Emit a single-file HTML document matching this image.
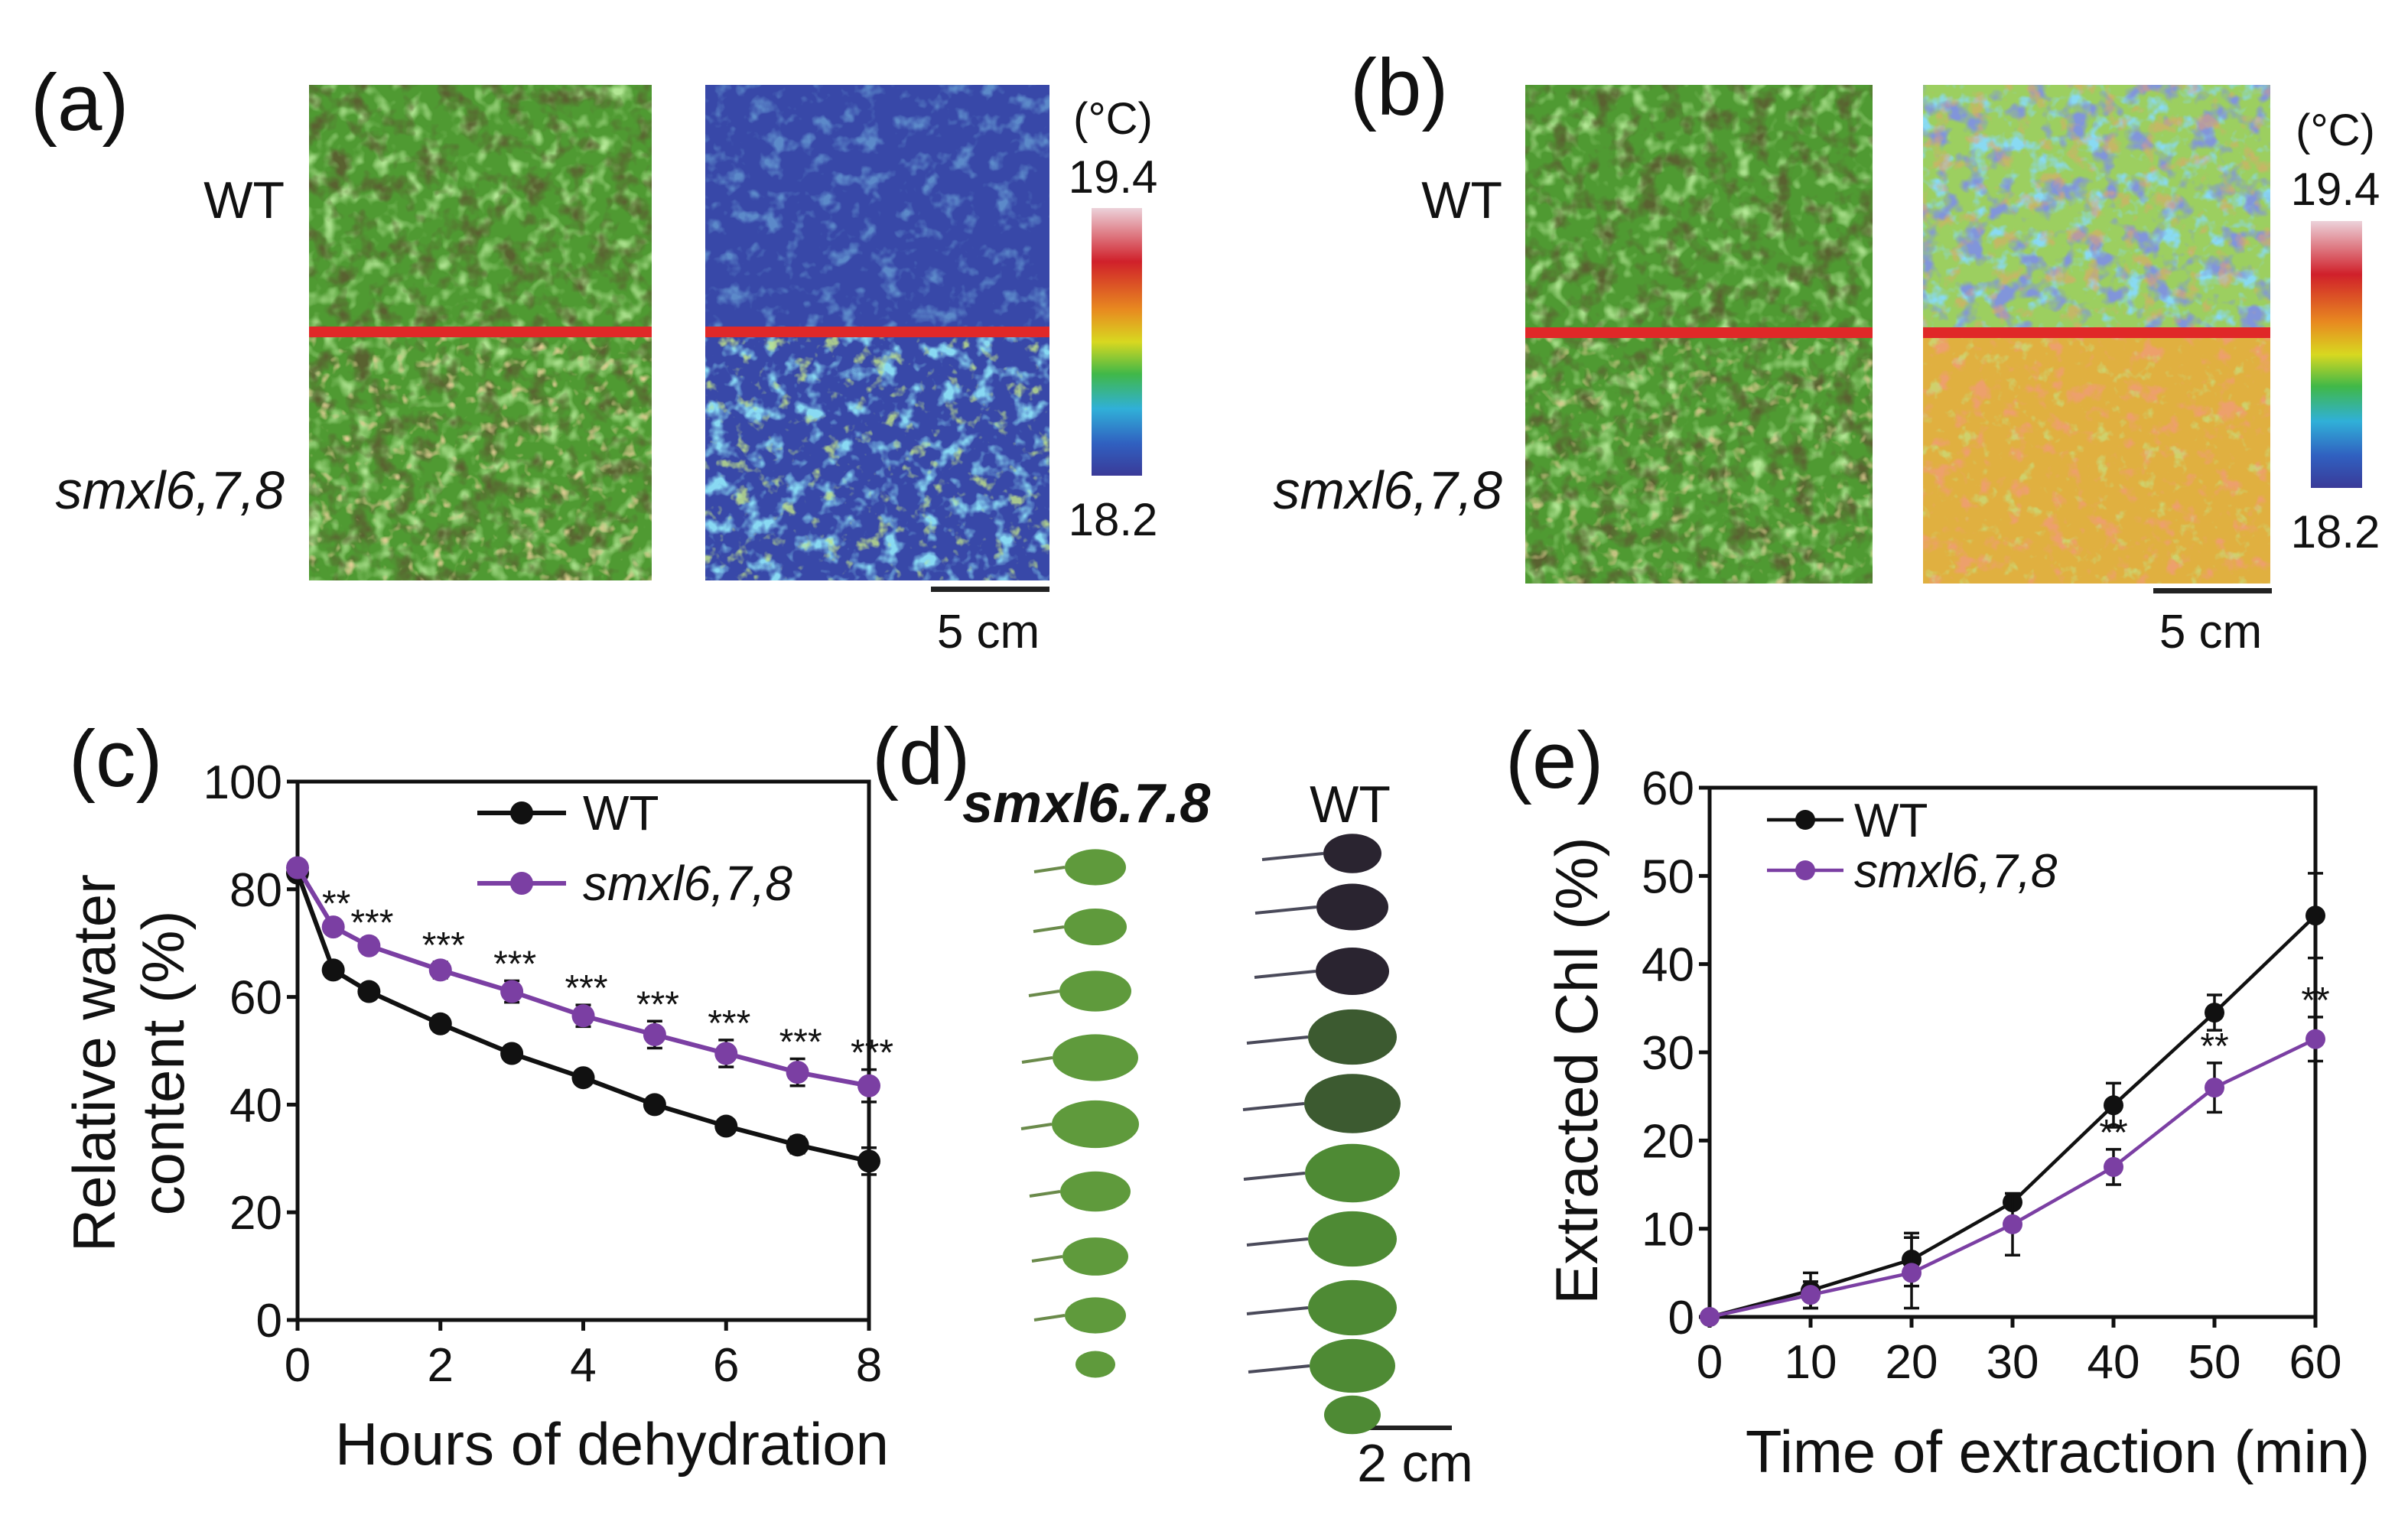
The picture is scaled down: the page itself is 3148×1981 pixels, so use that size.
<!DOCTYPE html>
<html><head><meta charset="utf-8"><style>
html,body{margin:0;padding:0;background:#fff}
svg{display:block}
text{font-family:"Liberation Sans",sans-serif;fill:#111}
</style></head><body>
<svg id="fig" width="3148" height="1981" viewBox="0 0 3148 1981" xmlns="http://www.w3.org/2000/svg">
<defs>
<filter id="leafTex" x="0" y="0" width="100%" height="100%">
<feTurbulence type="fractalNoise" baseFrequency="0.035" numOctaves="3" seed="3"/>
<feColorMatrix type="matrix" values="0 0 0 0 0.10  0 0 0 0 0.12  0 0 0 0 0.03  -3 0 0 0 1.55"/>
</filter>
<filter id="leafHi" x="0" y="0" width="100%" height="100%">
<feTurbulence type="fractalNoise" baseFrequency="0.045" numOctaves="2" seed="9"/>
<feColorMatrix type="matrix" values="0 0 0 0 0.45  0 0 0 0 0.80  0 0 0 0 0.30  3 0 0 0 -1.5"/>
</filter>
<filter id="soil" x="0" y="0" width="100%" height="100%">
<feTurbulence type="fractalNoise" baseFrequency="0.06" numOctaves="2" seed="5"/>
<feColorMatrix type="matrix" values="0 0 0 0 0.75  0 0 0 0 0.62  0 0 0 0 0.30  4 0 0 0 -2.4"/>
</filter>
<filter id="thermCyan" x="0" y="0" width="100%" height="100%">
<feTurbulence type="fractalNoise" baseFrequency="0.04" numOctaves="3" seed="11"/>
<feColorMatrix type="matrix" values="0 0 0 0 0.25  0 0 0 0 0.70  0 0 0 0 0.90  4 0 0 0 -2.1"/>
</filter>
<filter id="thermGreen" x="0" y="0" width="100%" height="100%">
<feTurbulence type="fractalNoise" baseFrequency="0.05" numOctaves="3" seed="21"/>
<feColorMatrix type="matrix" values="0 0 0 0 0.55  0 0 0 0 0.80  0 0 0 0 0.25  5 0 0 0 -3.0"/>
</filter>
<filter id="thermBlue" x="0" y="0" width="100%" height="100%">
<feTurbulence type="fractalNoise" baseFrequency="0.03" numOctaves="3" seed="7"/>
<feColorMatrix type="matrix" values="0 0 0 0 0.22  0 0 0 0 0.30  0 0 0 0 0.70  5 0 0 0 -2.6"/>
</filter>
<filter id="thermRed" x="0" y="0" width="100%" height="100%">
<feTurbulence type="fractalNoise" baseFrequency="0.04" numOctaves="3" seed="15"/>
<feColorMatrix type="matrix" values="0 0 0 0 0.85  0 0 0 0 0.35  0 0 0 0 0.15  5 0 0 0 -2.8"/>
</filter>
<linearGradient id="cbar" x1="0" y1="0" x2="0" y2="1">
<stop offset="0" stop-color="#ecd2da"/><stop offset="0.2" stop-color="#d0202a"/>
<stop offset="0.38" stop-color="#e88a20"/><stop offset="0.5" stop-color="#d8d820"/>
<stop offset="0.62" stop-color="#40b848"/><stop offset="0.75" stop-color="#30b0d8"/>
<stop offset="0.88" stop-color="#3060c0"/><stop offset="1" stop-color="#3a3a98"/>
</linearGradient>
</defs>

<!-- Panel a -->
<g>
<text x="40" y="170" font-size="105">(a)</text>
<text x="372" y="285" font-size="68" text-anchor="end">WT</text>
<text x="372" y="665" font-size="70" font-style="italic" text-anchor="end">smxl6,7,8</text>
<g>
<rect x="404" y="111" width="448" height="648" fill="#4f9a32"/>
<rect x="404" y="111" width="448" height="648" filter="url(#leafHi)"/>
<rect x="404" y="111" width="448" height="648" filter="url(#leafTex)"/>
<rect x="404" y="440" width="448" height="319" filter="url(#soil)"/>
</g>
<g>
<rect x="922" y="111" width="450" height="648" fill="#3848a8"/>
<rect x="922" y="111" width="450" height="323" filter="url(#thermCyan)" opacity="0.45"/>
<rect x="922" y="434" width="450" height="325" filter="url(#thermCyan)"/>
<rect x="922" y="434" width="450" height="325" filter="url(#thermGreen)" opacity="0.8"/>
</g>
<rect x="404" y="427" width="448" height="14" fill="#e02828"/>
<rect x="922" y="427" width="450" height="14" fill="#e02828"/>
<rect x="1427" y="272" width="66" height="350" fill="url(#cbar)"/>
<text x="1455" y="175" font-size="58" text-anchor="middle">(°C)</text>
<text x="1455" y="252" font-size="60" text-anchor="middle">19.4</text>
<text x="1455" y="700" font-size="60" text-anchor="middle">18.2</text>
<rect x="1217" y="767" width="155" height="7" fill="#222"/>
<text x="1292" y="847" font-size="62" text-anchor="middle">5 cm</text>
</g>

<!-- Panel b -->
<g>
<text x="1765" y="150" font-size="105">(b)</text>
<text x="1964" y="285" font-size="68" text-anchor="end">WT</text>
<text x="1964" y="665" font-size="70" font-style="italic" text-anchor="end">smxl6,7,8</text>
<g>
<rect x="1994" y="111" width="454" height="652" fill="#4f9a32"/>
<rect x="1994" y="111" width="454" height="652" filter="url(#leafHi)"/>
<rect x="1994" y="111" width="454" height="652" filter="url(#leafTex)"/>
<rect x="1994" y="440" width="454" height="323" filter="url(#soil)" opacity="0.8"/>
</g>
<g>
<rect x="2514" y="111" width="454" height="323" fill="#9ccf60"/>
<rect x="2514" y="111" width="454" height="323" filter="url(#thermCyan)"/>
<rect x="2514" y="111" width="454" height="323" filter="url(#thermBlue)"/>
<rect x="2514" y="111" width="454" height="323" filter="url(#thermRed)" opacity="0.5"/>
<rect x="2514" y="434" width="454" height="329" fill="#e0b040"/>
<rect x="2514" y="434" width="454" height="329" filter="url(#thermRed)"/>
<rect x="2514" y="434" width="454" height="329" filter="url(#thermGreen)" opacity="0.6"/>
</g>
<rect x="1994" y="428" width="454" height="14" fill="#e02828"/>
<rect x="2514" y="428" width="454" height="14" fill="#e02828"/>
<rect x="3021" y="289" width="67" height="349" fill="url(#cbar)"/>
<text x="3053" y="190" font-size="58" text-anchor="middle">(°C)</text>
<text x="3053" y="268" font-size="60" text-anchor="middle">19.4</text>
<text x="3053" y="716" font-size="60" text-anchor="middle">18.2</text>
<rect x="2815" y="769" width="155" height="7" fill="#222"/>
<text x="2890" y="847" font-size="62" text-anchor="middle">5 cm</text>
</g>

<!-- Panel d -->
<g id="panelD">
<text x="1140" y="1025" font-size="105">(d)</text>
<text x="1258" y="1075" font-size="72" font-style="italic" font-weight="bold">smxl6.7.8</text>
<text x="1765" y="1075" font-size="68" text-anchor="middle">WT</text>
<rect x="1772" y="1864" width="126" height="6" fill="#222"/>
<text x="1850" y="1937" font-size="70" text-anchor="middle">2 cm</text>
</g>

<!-- Panel c -->
<g id="panelC">
<text x="90" y="1028" font-size="105">(c)</text>
</g>
<!-- Panel e -->
<g id="panelE">
<text x="1968" y="1030" font-size="105">(e)</text>
</g>
</svg>
<script>
const NS='http://www.w3.org/2000/svg';
// ---- Panel c data ----
const cHours=[0,0.5,1,2,3,4,5,6,7,8];
const cWT=[83,65,61,55,49.5,45,40,36,32.5,29.5];
const cWTerr=[1,1.2,1,1,1,1,1,1.2,1.5,2.5];
const cMut=[84,73,69.5,65,61,56.5,53,49.5,46,43.5];
const cMuterr=[1,1.2,1.2,1.5,2,2,2.5,2.5,2.5,3];
const cSig=['','**','***','***','***','***','***','***','***','***'];
const cXTicks=[0,2,4,6,8];
const cYTicks=[0,20,40,60,80,100];
// ---- Panel e data ----
const eTime=[0,10,20,30,40,50,60];
const eWT=[0,3,6.5,13,24,34.5,45.5];
const eWTerr=[0,2,3,0.5,2.5,2,4.8];
const eMut=[0,2.5,5,10.5,17,26,31.5];
const eMuterr=[0,1.5,4,3.5,2,2.8,2.5];
const eSig=['','','','','**','**','**'];
const eXTicks=[0,10,20,30,40,50,60];
const eYTicks=[0,10,20,30,40,50,60];
// ---- Panel d leaves ----
const dMutY=[1134,1212,1296,1383,1470,1558,1643,1720,1784];
const dMutW=[80,82,94,112,114,92,86,80,52];
const dWTY=[1116,1186,1270,1356,1443,1534,1620,1710,1786,1850];
const dWTW=[76,94,96,116,126,124,116,116,112,74];

function el(tag,attrs,parent){const e=document.createElementNS(NS,tag);for(const k in attrs)e.setAttribute(k,attrs[k]);parent.appendChild(e);return e;}

function chart(g,o){
  const X=v=>o.x0+(v-o.xmin)/(o.xmax-o.xmin)*(o.x1-o.x0);
  const Y=v=>o.y0-(v-o.ymin)/(o.ymax-o.ymin)*(o.y0-o.y1);
  const frame=el('rect',{x:o.x0,y:o.y1,width:o.x1-o.x0,height:o.y0-o.y1,fill:'none',stroke:'#111','stroke-width':5},g);
  
  
  o.yt.forEach(v=>{
    const t=el('line',{x1:o.x0-14,x2:o.x0,y1:Y(v),y2:Y(v),stroke:'#111','stroke-width':5},g);
    
    
    const l=el('text',{x:o.x0-20,y:Y(v)+22,'font-size':o.fs,'text-anchor':'end'},g);l.textContent=v;
    
    
  });
  o.xt.forEach(v=>{
    const t=el('line',{x1:X(v),x2:X(v),y1:o.y0,y2:o.y0+14,stroke:'#111','stroke-width':5},g);
    
    
    const l=el('text',{x:X(v),y:o.y0+o.xlo,'font-size':o.fs,'text-anchor':'middle'},g);l.textContent=v;
    
    
  });
  o.series.forEach(s=>{
    const sg=el('g',{},g);
    
    
    const pts=o.xs.map((x,i)=>X(x)+','+Y(s.v[i])).join(' ');
    const pl=el('polyline',{points:pts,fill:'none',stroke:s.c,'stroke-width':o.lw,'stroke-linejoin':'round'},sg);
    
    
    o.xs.forEach((x,i)=>{
      if(s.e[i]>0){
        const cx=X(x),a=Y(s.v[i]+s.e[i]),b=Y(s.v[i]-s.e[i]);
        const eb=el('path',{d:`M${cx},${a}V${b}M${cx-10},${a}H${cx+10}M${cx-10},${b}H${cx+10}`,stroke:'#111','stroke-width':3.5,fill:'none'},sg);
        
        
      }
      const m=el('circle',{cx:X(x),cy:Y(s.v[i]),r:o.r,fill:s.c},sg);
      
      
    });
  });
  o.sig.forEach((s,i)=>{
    if(!s)return;
    const t=el('text',{x:X(o.xs[i])+o.sdx,y:Y(o.mut[i]+o.mutE[i])-6,'font-size':o.sfs,'text-anchor':'middle'},g);t.textContent=s;
    
    
  });
  o.legend.forEach(L=>{
    const ln=el('line',{x1:L.x1,x2:L.x2,y1:L.y,y2:L.y,stroke:L.c,'stroke-width':o.lw},g);
    
    
    const c=el('circle',{cx:(L.x1+L.x2)/2,cy:L.y,r:o.r,fill:L.c},g);
    
    
    const t=el('text',{x:L.tx,y:L.y+22,'font-size':L.fs,'font-style':L.it?'italic':'normal'},g);t.textContent=L.t;
    
    
  });
}
const P='#7b3fa3';
const gc=document.getElementById('panelC');
chart(gc,{x0:389,x1:1136,y0:1726,y1:1022,xmin:0,xmax:8,ymin:0,ymax:100,xs:cHours,xt:cXTicks,yt:cYTicks,fs:62,xlo:80,lw:6,r:15,
 series:[{name:'wt-series',v:cWT,e:cWTerr,c:'#111'},{name:'mutant-series',v:cMut,e:cMuterr,c:P}],
 sig:cSig,mut:cMut,mutE:cMuterr,sdx:4,sfs:48,
 legend:[{x1:624,x2:740,y:1063,c:'#111',tx:762,t:'WT',fs:64},{x1:624,x2:740,y:1155,c:P,tx:762,t:'smxl6,7,8',fs:64,it:true}]});
let t=el('text',{x:800,y:1915,'font-size':78,'text-anchor':'middle'},gc);t.textContent='Hours of dehydration';


t=el('text',{x:0,y:0,'font-size':78,'text-anchor':'middle',transform:'translate(150,1390) rotate(-90)'},gc);t.textContent='Relative water';


t=el('text',{x:0,y:0,'font-size':78,'text-anchor':'middle',transform:'translate(240,1390) rotate(-90)'},gc);t.textContent='content (%)';



const ge=document.getElementById('panelE');
chart(ge,{x0:2235,x1:3027,y0:1722,y1:1030,xmin:0,xmax:60,ymin:0,ymax:60,xs:eTime,xt:eXTicks,yt:eYTicks,fs:62,xlo:80,lw:4.5,r:13,
 series:[{name:'wt-series',v:eWT,e:eWTerr,c:'#111'},{name:'mutant-series',v:eMut,e:eMuterr,c:P}],
 sig:eSig,mut:eMut,mutE:eMuterr,sdx:0,sfs:48,
 legend:[{x1:2310,x2:2410,y:1072,c:'#111',tx:2424,t:'WT',fs:62},{x1:2310,x2:2410,y:1138,c:P,tx:2424,t:'smxl6,7,8',fs:62,it:true}]});
t=el('text',{x:2690,y:1925,'font-size':78,'text-anchor':'middle'},ge);t.textContent='Time of extraction (min)';


t=el('text',{x:0,y:0,'font-size':78,'text-anchor':'middle',transform:'translate(2088,1400) rotate(-90)'},ge);t.textContent='Extracted Chl (%)';



const gd=document.getElementById('panelD');
dMutY.forEach((y,i)=>{
  const w=dMutW[i];
  const lf=el('ellipse',{cx:1432,cy:y,rx:w/2,ry:w*0.22+6,fill:'#5f9a3c'},gd);
  
  
  if(i<8){const p=el('line',{x1:1432-w/2-40,y1:y+6,x2:1432-w/2,y2:y,stroke:'#6a8a4a','stroke-width':4},gd);
  
  }
});
dWTY.forEach((y,i)=>{
  const w=dWTW[i];const col=i<3?'#2a2430':(i<5?'#3c5a30':'#4e8a34');
  const lf=el('ellipse',{cx:1768,cy:y,rx:w/2,ry:w*0.26+6,fill:col},gd);
  
  
  if(i<9){const p=el('line',{x1:1768-w/2-80,y1:y+8,x2:1768-w/2,y2:y,stroke:'#4a4a5a','stroke-width':4},gd);
  
  }
});
</script>
</body></html>
